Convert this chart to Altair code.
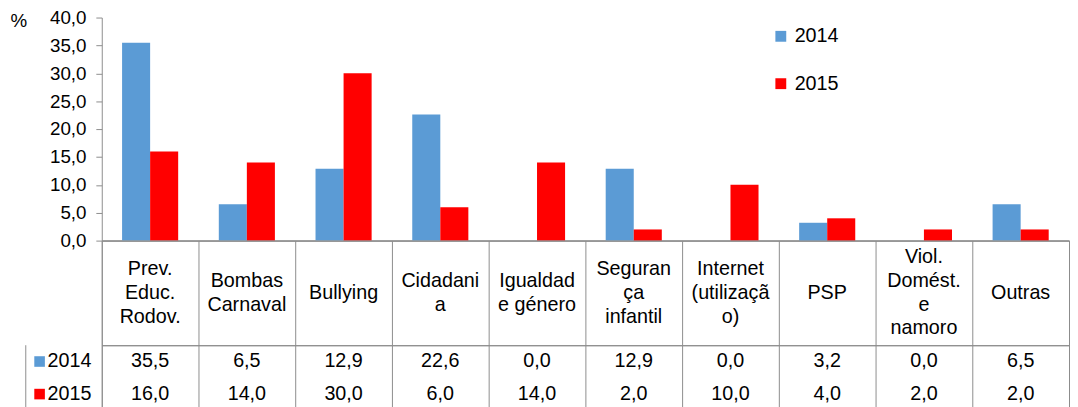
import altair as alt
import pandas as pd

# ---- data ----
categories = [
    "Prev. Educ. Rodov.", "Bombas Carnaval", "Bullying", "Cidadania",
    "Igualdade género", "Segurança infantil", "Internet (utilização)",
    "PSP", "Viol. Domést. e namoro", "Outras",
]
header_labels = [
    ["Prev.", "Educ.", "Rodov."], ["Bombas", "Carnaval"], ["Bullying"],
    ["Cidadani", "a"], ["Igualdad", "e género"], ["Seguran", "ça", "infantil"],
    ["Internet", "(utilizaçã", "o)"], ["PSP"], ["Viol.", "Domést.", "e", "namoro"],
    ["Outras"],
]
years = ["2014", "2015"]
values_2014 = [35.5, 6.5, 12.9, 22.6, 0.0, 12.9, 0.0, 3.2, 0.0, 6.5]
values_2015 = [16.0, 14.0, 30.0, 6.0, 14.0, 2.0, 10.0, 4.0, 2.0, 2.0]
y_ticks = [0, 5, 10, 15, 20, 25, 30, 35, 40]
year_colors = ["#5B9BD5", "#FF0000"]

rows = []
for i, c in enumerate(categories):
    rows.append({"category": c, "year": years[0], "value": values_2014[i]})
    rows.append({"category": c, "year": years[1], "value": values_2015[i]})
df = pd.DataFrame(rows)

line_rows = []
for c, lines in zip(categories, header_labels):
    n = len(lines)
    for j, t in enumerate(lines):
        line_rows.append({"category": c, "line": t, "pos": j - (n - 1) / 2})
header_df = pd.DataFrame(line_rows)
year_df = pd.DataFrame({"year": years})

W = 980
H_BARS = 226
H_HEAD = 106
H_VALS = 66
LINE_H = 24
GRID = "#8C8C8C"
FONT = "Liberation Sans"
comma = "replace(format(datum.value, '.1f'), '.', ',')"

color_scale = alt.Scale(domain=years, range=year_colors)
cell_x = alt.Scale(domain=categories, paddingInner=0, paddingOuter=0)
row_y = alt.Scale(domain=years, paddingInner=0, paddingOuter=0)
cell_axis = alt.Axis(title=None, labels=False, ticks=False, domain=False,
                     grid=True, tickBand="extent", gridColor=GRID)

bars = alt.Chart(df).mark_bar().encode(
    x=alt.X("category:N", sort=categories,
            scale=alt.Scale(domain=categories, paddingInner=0.42, paddingOuter=0.21),
            axis=alt.Axis(title=None, labels=False, ticks=False,
                          domainColor=GRID, domainWidth=1.5)),
    xOffset=alt.XOffset("year:N", scale=alt.Scale(domain=years, paddingInner=0, paddingOuter=0)),
    y=alt.Y("value:Q", scale=alt.Scale(domain=[0, 40], nice=False),
            axis=alt.Axis(values=y_ticks, labelExpr=comma, grid=False, tickSize=6,
                          tickColor=GRID, domainColor=GRID, labelFontSize=19,
                          labelPadding=10, labelColor="black", title="%",
                          titleAngle=0, titleAlign="left", titleBaseline="middle",
                          titleX=-93, titleY=3, titleFontSize=19,
                          titleFontWeight="normal", titleColor="black")),
    color=alt.Color("year:N", scale=color_scale,
                    legend=alt.Legend(title=None, orient="none", legendX=678, legendY=9,
                                      symbolType="square", symbolSize=121,
                                      labelFontSize=20, rowPadding=28, padding=0,
                                      symbolStrokeWidth=0, labelColor="black")),
).properties(width=W, height=H_BARS, view=alt.ViewBackground(stroke=None))

half = H_HEAD / LINE_H / 2
header = alt.Chart(header_df).mark_text(
    fontSize=20, color="black", baseline="middle"
).encode(
    x=alt.X("category:N", scale=cell_x, axis=cell_axis),
    y=alt.Y("pos:Q", scale=alt.Scale(domain=[-half, half], reverse=True, nice=False, zero=False),
            axis=None),
    text="line:N",
).properties(width=W, height=H_HEAD, view=alt.ViewBackground(stroke=GRID))

vals_text = alt.Chart(df).transform_calculate(
    label="replace(format(datum.value, '.1f'), '.', ',')"
).mark_text(fontSize=20, color="black").encode(
    x=alt.X("category:N", scale=cell_x, axis=cell_axis),
    y=alt.Y("year:N", scale=row_y,
            axis=alt.Axis(title=None, grid=True, tickBand="extent", gridColor=GRID,
                          tickSize=77, tickColor=GRID, domain=False, labels=False)),
    text="label:N",
)
keys = alt.Chart(year_df).mark_square(size=115, opacity=1).encode(
    x=alt.value(-63),
    y=alt.Y("year:N", scale=row_y, axis=None),
    color=alt.Color("year:N", scale=color_scale, legend=None),
)
row_names = alt.Chart(year_df).mark_text(
    fontSize=20, color="black", align="left", baseline="middle"
).encode(
    x=alt.value(-55),
    y=alt.Y("year:N", scale=row_y, axis=None),
    text="year:N",
)
border = alt.Chart(year_df.head(1)).mark_rule(color=GRID).encode(
    x=alt.value(-77), y=alt.value(0), y2=alt.value("height"),
)
values = alt.layer(vals_text, keys, row_names, border).properties(
    width=W, height=H_VALS, view=alt.ViewBackground(stroke=GRID)
)

chart = alt.vconcat(bars, header, values, spacing=0, bounds="flush").resolve_scale(
    x="independent", y="independent", color="independent"
).configure(
    font=FONT, padding={"left": 2, "top": -2, "right": 0, "bottom": 0}
)

chart.save("out.html", embed_options={"renderer": "svg", "actions": False})
